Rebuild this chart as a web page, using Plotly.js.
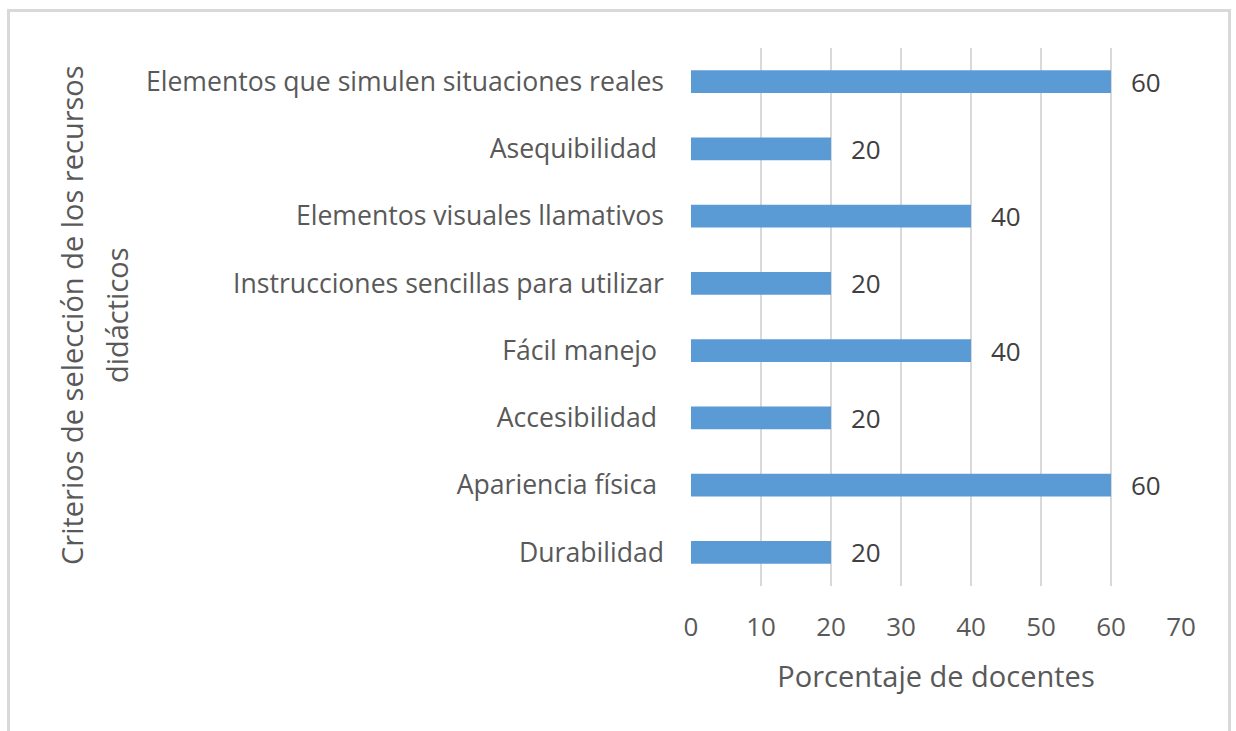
<!DOCTYPE html>
<html>
<head>
<meta charset="utf-8">
<script src="https://cdn.plot.ly/plotly-3.0.1.min.js"></script>
<style>
html,body{margin:0;padding:0;background:#fff;}
#wrap{position:relative;width:1236px;height:731px;overflow:hidden;}
#chart{width:1236px;height:731px;}
#frame{position:absolute;left:7px;top:9px;width:1224px;height:740px;border:3px solid #d9d9d9;border-bottom:none;pointer-events:none;box-sizing:border-box;}
</style>
</head>
<body>
<div id="wrap"><div id="chart"></div><div id="frame"></div></div>
<script>
const categories = [
  "Durabilidad",
  "Apariencia física ",
  "Accesibilidad ",
  "Fácil manejo ",
  "Instrucciones sencillas para utilizar",
  "Elementos visuales llamativos",
  "Asequibilidad ",
  "Elementos que simulen situaciones reales"
];
const values = [20, 60, 20, 40, 20, 40, 20, 60];
const tickValues = [0, 10, 20, 30, 40, 50, 60, 70];
const yTitleLines = ["Criterios de selección de los recursos", "didácticos"];
const xTitle = "Porcentaje de docentes";

const fontFam = "'Open Sans', sans-serif";
const textColor = "#595959";

const trace = {
  type: "bar",
  orientation: "h",
  x: values,
  y: categories,
  marker: {color: "#5b9bd5"},
  hoverinfo: "x+y"
};

const annotations = values.map((v, i) => ({
  x: v, y: categories[i], xref: "x", yref: "y",
  text: String(v), showarrow: false,
  xanchor: "left", yanchor: "middle", xshift: 18,
  font: {family: fontFam, size: 26, color: "#404040"}
}));

const titleX = [-1.263, -1.171];
yTitleLines.forEach((t, i) => {
  annotations.push({
    xref: "paper", yref: "paper", x: titleX[i], y: 0.504,
    xanchor: "center", yanchor: "middle",
    text: t, showarrow: false, textangle: -90,
    font: {family: fontFam, size: 29, color: textColor}
  });
});

const layout = {
  width: 1236, height: 731,
  margin: {l: 691, r: 55, t: 48, b: 145, pad: 0},
  paper_bgcolor: "#ffffff", plot_bgcolor: "#ffffff",
  bargap: 0.66,
  showlegend: false,
  font: {family: fontFam, color: textColor},
  xaxis: {
    range: [0, 70], tickvals: tickValues, ticktext: tickValues.map(String),
    showgrid: true, gridcolor: "#d9d9d9", gridwidth: 2,
    zeroline: false, showline: false, ticks: "",
    tickfont: {family: fontFam, size: 26, color: textColor},
    ticklabelstandoff: 23,
    title: {text: xTitle, font: {family: fontFam, size: 29, color: textColor}, standoff: 23},
    fixedrange: true
  },
  yaxis: {
    type: "category", categoryorder: "array", categoryarray: categories,
    showgrid: false, zeroline: false, showline: false, ticks: "",
    tickfont: {family: fontFam, size: 26.6, color: textColor},
    ticklabelstandoff: 26,
    automargin: false,
    fixedrange: true
  },
  annotations: annotations
};

Plotly.newPlot("chart", [trace], layout, {displayModeBar: false, staticPlot: true});
</script>
</body>
</html>
